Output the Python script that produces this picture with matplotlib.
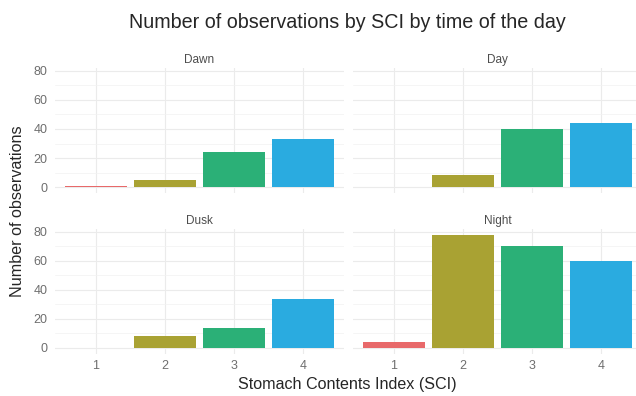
import matplotlib.pyplot as plt

plt.rcParams["font.family"] = ["Liberation Sans", "DejaVu Sans"]

panels = ["Dawn", "Day", "Dusk", "Night"]
sci = [1, 2, 3, 4]
dawn = [1, 5, 24, 33]
day = [0, 8, 40, 44]
dusk = [0, 8, 14, 34]
night = [4, 78, 70, 60]
counts = [dawn, day, dusk, night]
colors = ["#E8696A", "#A9A233", "#2BB077", "#2AABE0"]

W, H = 636, 396
fig = plt.figure(figsize=(W / 100, H / 100), dpi=100)

ymax = max(max(c) for c in counts)
ylo, yhi = -0.05 * ymax, ymax * 1.05

# pixel boxes: left, top, width, height
boxes = [(54.6, 68.2, 289.8, 124.5), (352.6, 68.2, 289.8, 124.5),
         (54.6, 229.0, 289.8, 124.5), (352.6, 229.0, 289.8, 124.5)]

for i, (name, vals) in enumerate(zip(panels, counts)):
    l, t, w, h = boxes[i]
    ax = fig.add_axes([l / W, 1 - (t + h) / H, w / W, h / H])
    ax.bar(sci, vals, width=0.9, color=colors, zorder=3)
    ax.set_xlim(0.4, 4.6)
    ax.set_ylim(ylo, yhi)
    ax.set_yticks([0, 20, 40, 60, 80])
    ax.set_yticks([10, 30, 50, 70], minor=True)
    ax.set_xticks(sci)
    ax.grid(True, which="major", color="#EBEBEB", lw=0.8, zorder=0)
    ax.grid(True, which="minor", axis="y", color="#F2F2F2", lw=0.5, zorder=0)
    for s in ax.spines.values():
        s.set_visible(False)
    ax.tick_params(which="both", length=0, labelsize=9, labelcolor="#6E6E6E")
    ax.tick_params(axis="y", pad=5)
    ax.tick_params(axis="x", pad=5)
    if i % 2 == 1:
        ax.tick_params(axis="y", labelleft=False)
    if i < 2:
        ax.tick_params(axis="x", labelbottom=False)
    ax.text(0.5, 1.02, name, transform=ax.transAxes, ha="center", va="bottom",
            fontsize=8.5, color="#4D4D4D")

fig.text(347 / W, 1 - 22 / H, "Number of observations by SCI by time of the day",
         ha="center", va="center", fontsize=14.2, color="#262626")
fig.text(347 / W, 1 - 385 / H, "Stomach Contents Index (SCI)",
         ha="center", va="center", fontsize=11.6, color="#262626")
fig.text(18 / W, 1 - 211 / H, "Number of observations", rotation=90,
         ha="center", va="center", fontsize=11.6, color="#262626")

fig.savefig("out.png", dpi=100)
